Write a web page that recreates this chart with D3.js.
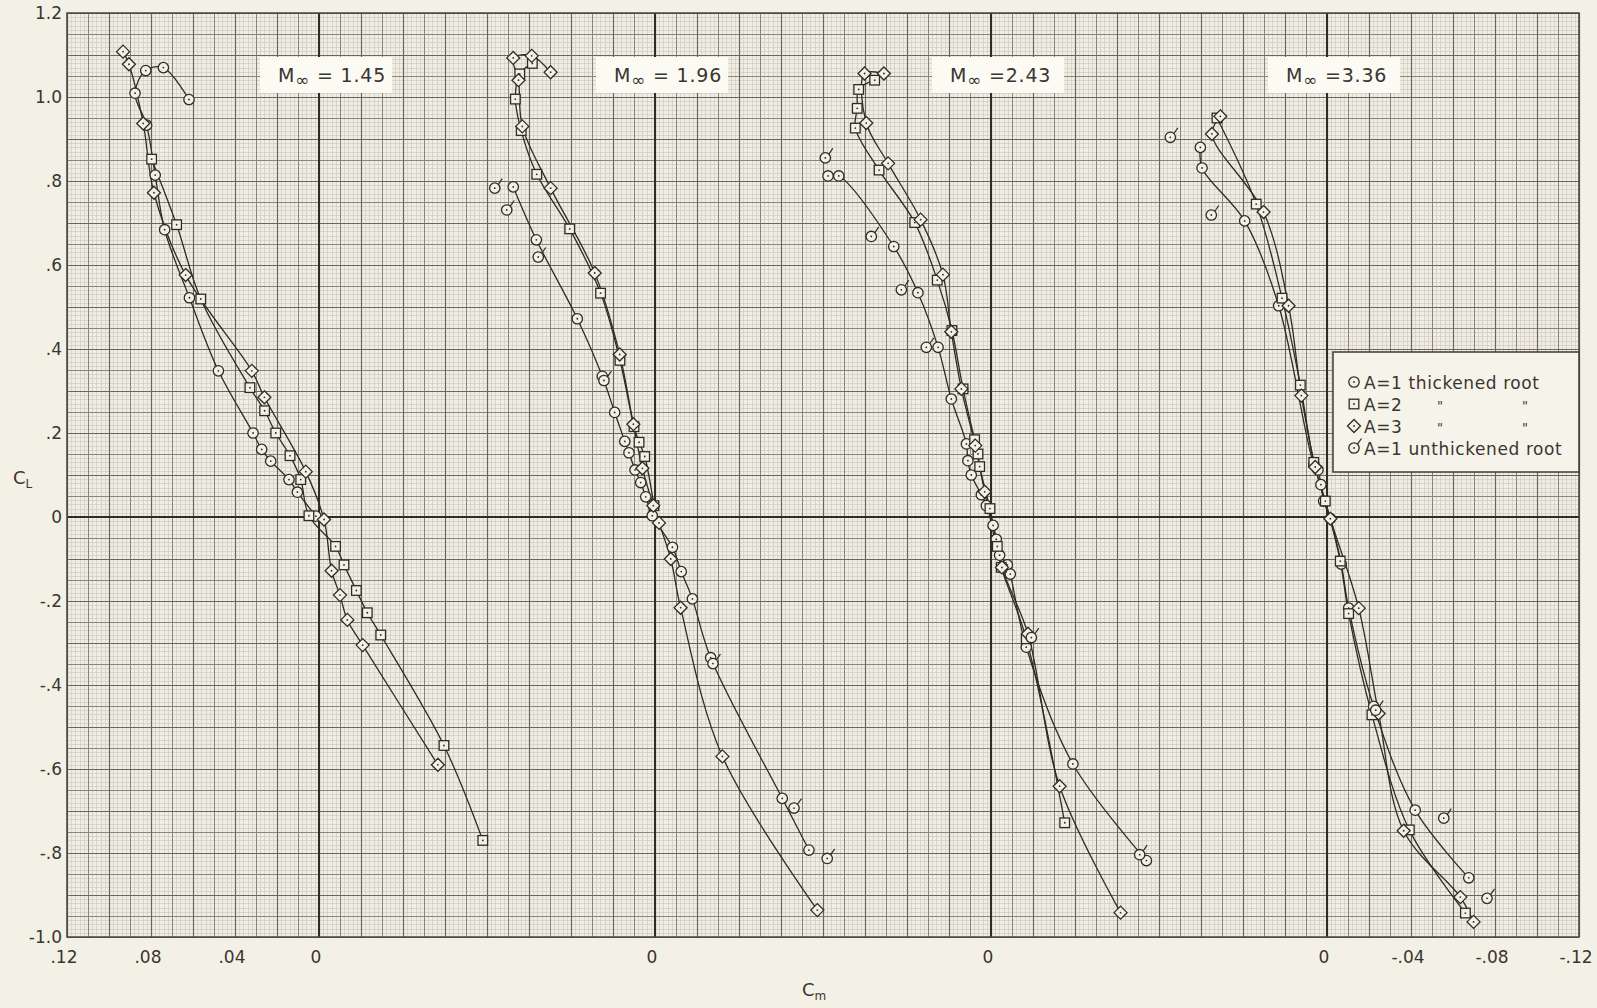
<!DOCTYPE html>
<html><head><meta charset="utf-8">
<script src="https://cdn.jsdelivr.net/npm/d3@7/dist/d3.min.js"></script>
<style>html,body{margin:0;padding:0;background:#f3f1e5;} svg{display:block;}</style>
</head><body><svg id="c" width="1597" height="1008"></svg>
<script>
// ---------- data ----------
const machLabels = ["M", "M", "M", "M"];
const machValues = [" = 1.45", " = 1.96", " =2.43", " =3.36"];
const panelOffsets = [0, -0.16, -0.32, -0.48];

const yTickValues = [1.2, 1.0, 0.8, 0.6, 0.4, 0.2, 0, -0.2, -0.4, -0.6, -0.8, -1.0];
const yTickLabels = ["1.2", "1.0", ".8", ".6", ".4", ".2", "0", "-.2", "-.4", "-.6", "-.8", "-1.0"];
const xTickValues = [0.12, 0.08, 0.04, 0, -0.16, -0.32, -0.48, -0.52, -0.56, -0.60];
const xTickLabels = [".12", ".08", ".04", "0", "0", "0", "0", "-.04", "-.08", "-.12"];

const legendLabels = ["A=1 thickened root", "A=2", "A=3", "A=1 unthickened root"];
const legendTypes = ["circle", "square", "diamond", "flag"];

// [Cm, CL] per panel and series
const m145_A1 = [[0.0619,0.994],[0.0741,1.070],[0.0825,1.063],[0.0876,1.009],[0.0821,0.933],[0.0780,0.814],[0.0735,0.684],[0.0617,0.522],[0.0479,0.348],[0.0314,0.200],[0.0273,0.161],[0.0230,0.133],[0.0143,0.089],[0.0103,0.059],[0.0015,0.002]];
const m145_A2 = [[0.0797,0.852],[0.0678,0.696],[0.0563,0.519],[0.0329,0.308],[0.0259,0.253],[0.0206,0.200],[0.0138,0.146],[0.0087,0.089],[0.0048,0.003],[-0.0079,-0.070],[-0.0119,-0.114],[-0.0178,-0.175],[-0.0230,-0.228],[-0.0294,-0.281],[-0.0595,-0.544],[-0.0780,-0.770]];
const m145_A3 = [[0.0933,1.108],[0.0905,1.078],[0.0837,0.937],[0.0786,0.772],[0.0635,0.576],[0.0320,0.348],[0.0260,0.285],[0.0063,0.108],[-0.0024,-0.006],[-0.0060,-0.128],[-0.0100,-0.186],[-0.0135,-0.245],[-0.0208,-0.305],[-0.0566,-0.590]];
const m145_A1u = [];

const m196_A1 = [[0.0675,0.786],[0.0565,0.660],[0.0370,0.472],[0.0251,0.335],[0.0192,0.249],[0.0144,0.180],[0.0124,0.153],[0.0095,0.112],[0.0068,0.082],[0.0044,0.048],[0.0013,0.003],[-0.0083,-0.072],[-0.0125,-0.130],[-0.0178,-0.195],[-0.0265,-0.335],[-0.0606,-0.670],[-0.0733,-0.793]];
const m196_A2 = [[0.0584,1.080],[0.0644,1.055],[0.0665,0.995],[0.0637,0.920],[0.0563,0.816],[0.0406,0.686],[0.0259,0.533],[0.0167,0.373],[0.0100,0.215],[0.0076,0.178],[0.0049,0.144],[0.0005,0.027]];
const m196_A3 = [[0.0497,1.059],[0.0587,1.098],[0.0675,1.093],[0.0650,1.040],[0.0632,0.930],[0.0497,0.783],[0.0287,0.581],[0.0168,0.387],[0.0103,0.221],[0.0060,0.116],[0.0008,0.027],[-0.0019,-0.014],[-0.0075,-0.100],[-0.0122,-0.216],[-0.0321,-0.570],[-0.0773,-0.936]];
const m196_A1u = [[0.0763,0.783],[0.0706,0.731],[0.0556,0.619],[0.0243,0.325],[-0.0276,-0.349],[-0.0662,-0.693],[-0.0820,-0.813]];

const m243_A1 = [[0.0776,0.812],[0.0725,0.812],[0.0463,0.644],[0.0348,0.534],[0.0252,0.404],[0.0189,0.281],[0.0117,0.174],[0.0110,0.134],[0.0094,0.100],[0.0046,0.053],[0.0022,0.027],[-0.0010,-0.020],[-0.0025,-0.053],[-0.0041,-0.091],[-0.0078,-0.114],[-0.0092,-0.136],[-0.0168,-0.310],[-0.0390,-0.588],[-0.0740,-0.818]];
const m243_A2 = [[0.0554,1.040],[0.0630,1.018],[0.0637,0.973],[0.0646,0.926],[0.0533,0.826],[0.0363,0.701],[0.0256,0.564],[0.0186,0.444],[0.0133,0.305],[0.0078,0.184],[0.0062,0.150],[0.0054,0.120],[0.0005,0.020],[-0.0030,-0.070],[-0.0049,-0.120],[-0.0168,-0.290],[-0.0351,-0.728]];
const m243_A3 = [[0.0510,1.056],[0.0602,1.056],[0.0594,0.938],[0.0490,0.842],[0.0335,0.708],[0.0229,0.577],[0.0189,0.441],[0.0141,0.305],[0.0075,0.170],[0.0030,0.060],[-0.0052,-0.120],[-0.0176,-0.278],[-0.0327,-0.641],[-0.0617,-0.942]];
const m243_A1u = [[0.0789,0.855],[0.0570,0.668],[0.0427,0.541],[0.0308,0.404],[-0.0192,-0.287],[-0.0708,-0.804]];

const m336_A1 = [[0.0603,0.880],[0.0595,0.831],[0.0392,0.705],[0.0230,0.503],[0.0063,0.126],[0.0043,0.112],[0.0029,0.077],[0.0016,0.038],[-0.0016,-0.004],[-0.0068,-0.112],[-0.0103,-0.217],[-0.0222,-0.451],[-0.0420,-0.698],[-0.0675,-0.859]];
const m336_A2 = [[0.0524,0.950],[0.0337,0.745],[0.0214,0.521],[0.0127,0.314],[0.0063,0.130],[0.0008,0.038],[-0.0063,-0.105],[-0.0103,-0.230],[-0.0214,-0.471],[-0.0392,-0.745],[-0.0659,-0.943]];
const m336_A3 = [[0.0508,0.954],[0.0548,0.912],[0.0302,0.726],[0.0183,0.503],[0.0122,0.289],[0.0056,0.119],[-0.0016,-0.004],[-0.0151,-0.217],[-0.0246,-0.468],[-0.0365,-0.747],[-0.0635,-0.905],[-0.0698,-0.964]];
const m336_A1u = [[0.0746,0.904],[0.0551,0.719],[-0.0232,-0.460],[-0.0556,-0.717],[-0.0762,-0.908]];

const panelSeries = [
  [m145_A1, m145_A2, m145_A3, m145_A1u],
  [m196_A1, m196_A2, m196_A3, m196_A1u],
  [m243_A1, m243_A2, m243_A3, m243_A1u],
  [m336_A1, m336_A2, m336_A3, m336_A1u]
];
const seriesConnected = [true, true, true, false];

// ---------- drawing ----------
const svg = d3.select("#c");
const L = 67, R = 1579, T = 13, B = 937;
const x = d3.scaleLinear().domain([0.12, -0.60]).range([L, R]);
const y = d3.scaleLinear().domain([-1.0, 1.2]).range([B, T]);
const ink = "#2f2b27";
const paper = "#f3f1e5";
const font = "'DejaVu Sans', 'Liberation Sans', sans-serif";

svg.append("rect").attr("width", 1597).attr("height", 1008).attr("fill", paper);
svg.append("rect").attr("x", L).attr("y", T).attr("width", R - L).attr("height", B - T).attr("fill", "#f0eee3");

const grid = svg.append("g");
const xi = d3.range(0, 361), yi = d3.range(0, 221);
function vstyle(i) { return i % 10 === 0 ? ["#6a655e", 1.2] : i % 5 === 0 ? ["#8a847b", 1] : ["#d3cec4", 0.8]; }
[0, 1, 2].forEach(level => {
  xi.filter(i => (level === 0 ? i % 5 !== 0 : level === 1 ? (i % 5 === 0 && i % 10 !== 0) : i % 10 === 0)).forEach(i => {
    const v = 0.12 - i * 0.002, s = vstyle(i), px = Math.round(x(v)) + 0.5;
    grid.append("line").attr("x1", px).attr("x2", px).attr("y1", T).attr("y2", B).attr("stroke", s[0]).attr("stroke-width", s[1]);
  });
  yi.filter(j => (level === 0 ? j % 5 !== 0 : level === 1 ? (j % 5 === 0 && j % 10 !== 0) : j % 10 === 0)).forEach(j => {
    const v = -1.0 + j * 0.01, s = vstyle(j), py = Math.round(y(v)) + 0.5;
    grid.append("line").attr("x1", L).attr("x2", R).attr("y1", py).attr("y2", py).attr("stroke", s[0]).attr("stroke-width", s[1]);
  });
});
// zero lines
panelOffsets.forEach(o => {
  grid.append("line").attr("x1", x(o)).attr("x2", x(o)).attr("y1", T).attr("y2", B).attr("stroke", ink).attr("stroke-width", 2);
});
grid.append("line").attr("x1", L).attr("x2", R).attr("y1", y(0)).attr("y2", y(0)).attr("stroke", ink).attr("stroke-width", 2);
grid.append("rect").attr("x", L).attr("y", T).attr("width", R - L).attr("height", B - T).attr("fill", "none").attr("stroke", "#4a453f").attr("stroke-width", 1.5);

// tick labels
svg.append("g").selectAll("text").data(yTickValues).join("text")
  .attr("x", 62).attr("y", d => y(d)).attr("dy", "0.36em").attr("text-anchor", "end")
  .attr("font-family", font).attr("font-size", 17).attr("fill", "#3a3530")
  .text((d, i) => yTickLabels[i]);
svg.append("g").selectAll("text").data(xTickValues).join("text")
  .attr("x", d => x(d) - 3).attr("y", 963).attr("text-anchor", "middle")
  .attr("font-family", font).attr("font-size", 17).attr("fill", "#3a3530")
  .text((d, i) => xTickLabels[i]);

// axis titles
const yt = svg.append("text").attr("x", 13).attr("y", 484).attr("font-family", font).attr("font-size", 18).attr("fill", "#3a3530");
yt.append("tspan").text("C");
yt.append("tspan").attr("font-size", 12).attr("dy", 4).text("L");
const xt = svg.append("text").attr("x", 802).attr("y", 996).attr("font-family", font).attr("font-size", 18).attr("fill", "#3a3530");
xt.append("tspan").text("C");
xt.append("tspan").attr("font-size", 12).attr("dy", 4).text("m");

// Mach labels
panelOffsets.forEach((o, i) => {
  const cx = x(o);
  svg.append("rect").attr("x", cx - 59).attr("y", 57).attr("width", 132).attr("height", 36).attr("fill", "#fbfaf3");
  const t = svg.append("text").attr("x", cx - 41).attr("y", 82).attr("font-family", font).attr("font-size", 19).attr("letter-spacing", 0.8).attr("fill", "#3a3530");
  t.append("tspan").text(machLabels[i]);
  t.append("tspan").attr("font-size", 17).attr("dy", 4).text("\u221E");
  t.append("tspan").attr("dy", -4).text(machValues[i]);
});

// markers
function marker(g, type, px, py) {
  const s = { fill: paper, stroke: ink, w: 1.3 };
  if (type === "circle" || type === "flag") {
    g.append("circle").attr("cx", px).attr("cy", py).attr("r", 5.2).attr("fill", s.fill).attr("stroke", s.stroke).attr("stroke-width", s.w);
    if (type === "flag") g.append("line").attr("x1", px + 3.5).attr("y1", py - 3.8).attr("x2", px + 7.5).attr("y2", py - 9.5).attr("stroke", ink).attr("stroke-width", 1.2);
  } else if (type === "square") {
    g.append("rect").attr("x", px - 4.8).attr("y", py - 4.8).attr("width", 9.6).attr("height", 9.6).attr("fill", s.fill).attr("stroke", s.stroke).attr("stroke-width", s.w);
  } else {
    const r = 6.5;
    g.append("path").attr("d", `M${px},${py - r}L${px + r},${py}L${px},${py + r}L${px - r},${py}Z`).attr("fill", s.fill).attr("stroke", s.stroke).attr("stroke-width", s.w);
  }
  g.append("circle").attr("cx", px).attr("cy", py).attr("r", 0.9).attr("fill", ink);
}

const lineGen = d3.line().curve(d3.curveCatmullRom.alpha(0.5));
const curves = svg.append("g");
const marks = svg.append("g");
panelSeries.forEach((series, pi) => {
  const o = panelOffsets[pi];
  series.forEach((pts, si) => {
    const xy = pts.map(p => [x(p[0] + o), y(p[1])]);
    if (seriesConnected[si] && xy.length > 1) {
      curves.append("path").attr("d", lineGen(xy)).attr("fill", "none").attr("stroke", ink).attr("stroke-width", 1.3);
    }
  });
  series.forEach((pts, si) => {
    pts.forEach(p => marker(marks, legendTypes[si], x(p[0] + o), y(p[1])));
  });
});

// legend
const lg = svg.append("g");
lg.append("rect").attr("x", 1333).attr("y", 352).attr("width", R - 1333).attr("height", 120).attr("fill", "#f6f4ea").attr("stroke", "#3f3a35").attr("stroke-width", 1.5);
const rowsY = [383, 405, 427, 449];
legendLabels.forEach((lab, i) => {
  marker(lg, legendTypes[i], 1354, rowsY[i] - 1);
  lg.append("text").attr("x", 1364).attr("y", rowsY[i]).attr("dy", "0.36em").attr("font-family", font).attr("font-size", 17).attr("letter-spacing", 0.6).attr("fill", "#3a3530").text(lab);
  if (i === 1 || i === 2) {
    [1437, 1522].forEach(dx => lg.append("text").attr("x", dx).attr("y", rowsY[i]).attr("dy", "0.36em").attr("font-family", font).attr("font-size", 13).attr("fill", "#3a3530").text("\""));
  }
});
</script></body></html>
